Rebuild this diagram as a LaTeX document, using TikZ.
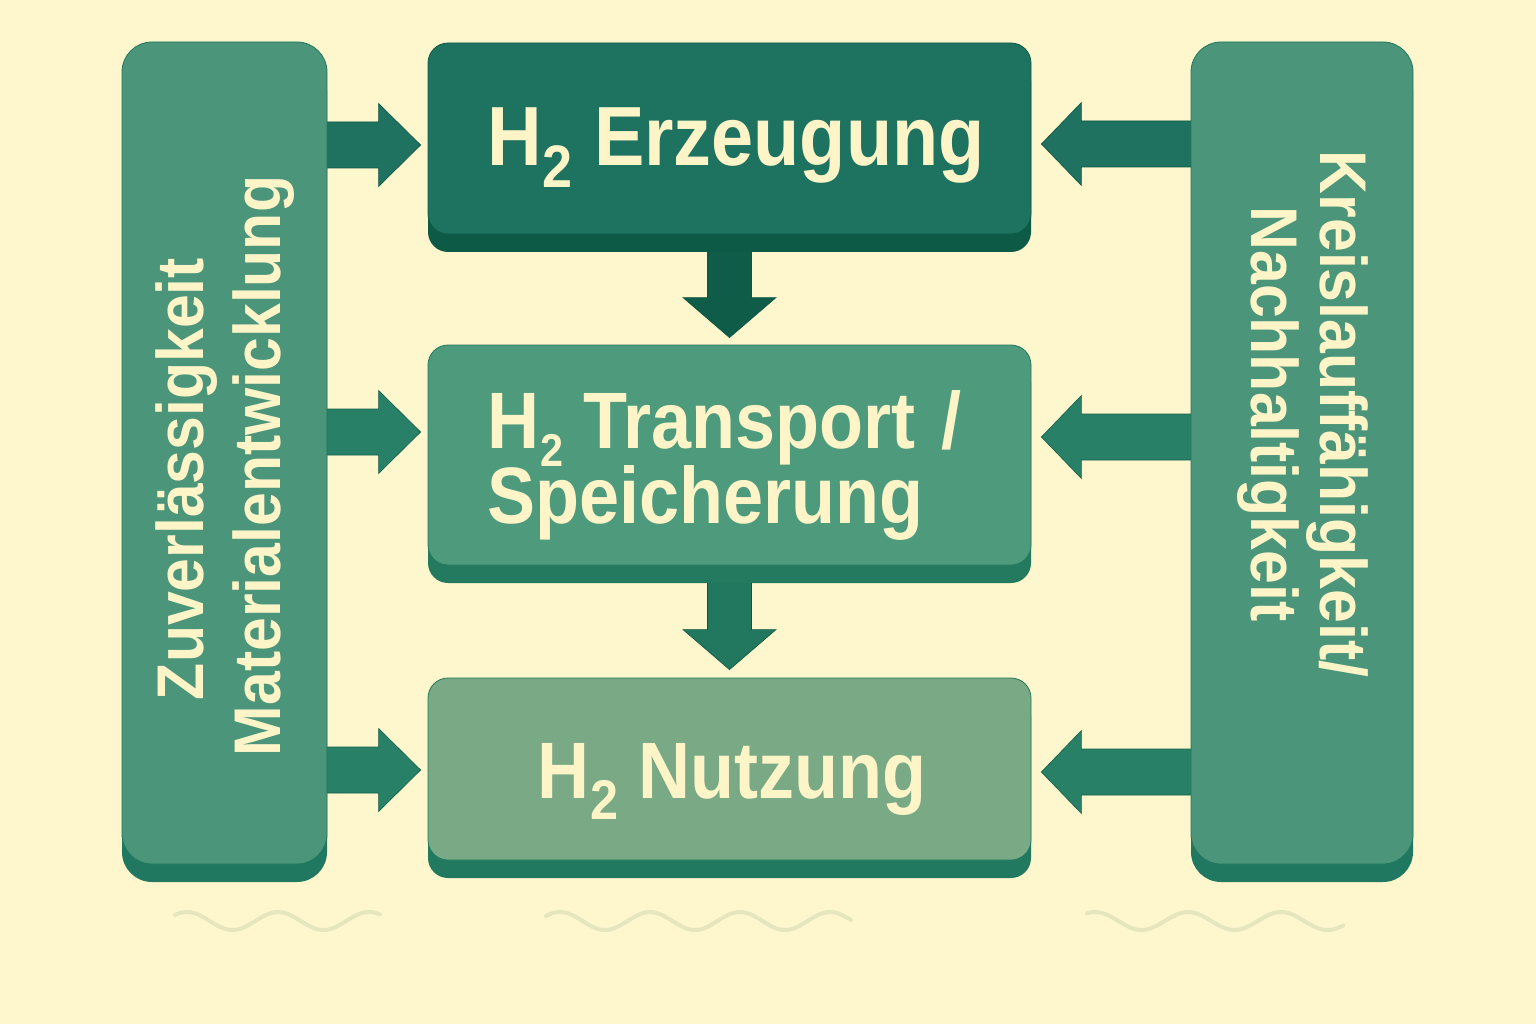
\documentclass[tikz,border=0pt]{standalone}
\usepackage{fontspec}
\setmainfont{Liberation Sans}
\newfontfamily\hfont{Liberation Sans}[FakeStretch=0.9]
\newfontfamily\sidefont{Liberation Sans}[FakeStretch=0.92]
\usetikzlibrary{calc,shadows}
\pgfdeclarelayer{bgl}
\pgfdeclarelayer{arr}
\pgfsetlayers{bgl,arr,main}
\definecolor{bgc}{HTML}{FEF6CD}
\definecolor{topface}{HTML}{1E7260}
\definecolor{topshadow}{HTML}{0D5B47}
\definecolor{midface}{HTML}{4E9A7D}
\definecolor{midshadow}{HTML}{237A5F}
\definecolor{botface}{HTML}{79A985}
\definecolor{botshadow}{HTML}{217A5F}
\definecolor{barface}{HTML}{4B957A}
\definecolor{barshadow}{HTML}{207860}
\definecolor{arrowdark}{HTML}{1E725F}
\definecolor{arrowmid}{HTML}{288066}
\definecolor{downdark}{HTML}{0F5D49}
\definecolor{downmid}{HTML}{22775F}
\definecolor{edgec}{HTML}{0C5643}
\definecolor{txtc}{HTML}{FDF5C8}
\definecolor{wavec}{HTML}{E6E6BE}
\tikzset{
  panel/.style n args={3}{fill=#1, draw=#2, line width=0.8pt, rounded corners=#3,
    inner sep=0pt, drop shadow={shadow xshift=0pt, shadow yshift=-18pt, fill=#2, opacity=1}},
  maintext/.style={text=txtc, inner sep=0pt},
  sidetext/.style={text=txtc, inner sep=0pt, align=center},
  arrowA/.style={fill=arrowdark, draw=edgec, line width=0.6pt},
  arrowB/.style={fill=arrowmid, draw=edgec!80!arrowmid, line width=0.6pt},
  downA/.style={fill=downdark, draw=edgec, line width=0.6pt},
  downB/.style={fill=downmid, draw=edgec, line width=0.6pt},
  wave/.style={draw=wavec, line width=4pt, line cap=round},
}
\newcommand\Hsub[2]{\kern1pt\smash{\raisebox{-#2pt}{\fontsize{#1}{#1}\selectfont 2}}}
\newcommand\arrowRight[3]{%
  \begin{pgfonlayer}{arr}
  \filldraw[#3] let \p1=(#1), \p2=(#2) in
    (\x1,\y2+23pt) -- (\x2-42pt,\y2+23pt) -- (\x2-42pt,\y2+41.5pt) -- (\x2,\y2)
    -- (\x2-42pt,\y2-41.5pt) -- (\x2-42pt,\y2-23pt) -- (\x1,\y2-23pt) -- cycle;
  \end{pgfonlayer}}
\newcommand\arrowLeft[3]{%
  \begin{pgfonlayer}{arr}
  \filldraw[#3] let \p1=(#1), \p2=(#2) in
    (\x1,\y2+23pt) -- (\x2+40pt,\y2+23pt) -- (\x2+40pt,\y2+41.5pt) -- (\x2,\y2)
    -- (\x2+40pt,\y2-41.5pt) -- (\x2+40pt,\y2-23pt) -- (\x1,\y2-23pt) -- cycle;
  \end{pgfonlayer}}
\newcommand\arrowDown[3]{%
  \begin{pgfonlayer}{arr}
  \filldraw[#3] let \p1=(#1), \p2=(#2) in
    (\x2-22pt,\y1) -- (\x2-22pt,\y2+40pt) -- (\x2-46.5pt,\y2+40pt) -- (\x2,\y2)
    -- (\x2+46.5pt,\y2+40pt) -- (\x2+22pt,\y2+40pt) -- (\x2+22pt,\y1) -- cycle;
  \end{pgfonlayer}}
\begin{document}
\begin{tikzpicture}[x=1pt, y=-1pt]
\useasboundingbox (0,0) rectangle (1536,1024);
\begin{pgfonlayer}{bgl}
  \fill[bgc] (0,0) rectangle (1536,1024);
\end{pgfonlayer}

% side bars
\node[panel={barface}{barshadow}{30pt}, minimum width=205pt, minimum height=822pt] (lbar) at (224.5,453) {};
\node[panel={barface}{barshadow}{30pt}, minimum width=222pt, minimum height=822pt] (rbar) at (1302,453) {};

% main boxes
\node[panel={topface}{topshadow}{20pt}, minimum width=603pt, minimum height=191pt] (top) at (729.5,138.5) {};
\node[panel={midface}{midshadow}{20pt}, minimum width=603pt, minimum height=220pt] (mid) at (729.5,455) {};
\node[panel={botface}{botshadow}{20pt}, minimum width=603pt, minimum height=182pt] (bot) at (729.5,769) {};

% texts
\node[maintext, font={\hfont\bfseries\fontsize{84}{84}\selectfont}, anchor=base] (toptext) at (736,166) {H\Hsub{60}{22} Erzeugung};
\node[maintext, font={\hfont\bfseries\fontsize{80}{70}\selectfont}, align=left, anchor=north west] (midtext) at (487,390) {H\Hsub{46}{18} Transport\hspace{0.33em}/\\Speicherung};
\node[maintext, font={\hfont\bfseries\fontsize{80}{80}\selectfont}, anchor=base] (bottext) at (732,798) {H\Hsub{56}{21} Nutzung};
\node[sidetext, font={\sidefont\bfseries\fontsize{66}{77}\selectfont}, rotate=90] (ltext) at (225,466) {Zuverlässigkeit\rule{26pt}{0pt}\\Materialentwicklung};
\node[sidetext, font={\sidefont\bfseries\fontsize{66}{69}\selectfont}, rotate=-90] (rtext) at (1303,414) {Kreislauffähigkeit/\\Nachhaltigkeit};

% arrow tips
\coordinate (tipL1) at ($(top.west)+(-7,6.5)$);
\coordinate (tipL2) at ($(mid.west)+(-7,-23)$);
\coordinate (tipL3) at ($(bot.west)+(-7,1)$);
\coordinate (tipR1) at ($(top.east)+(10,5.5)$);
\coordinate (tipR2) at ($(mid.east)+(10,-18)$);
\coordinate (tipR3) at ($(bot.east)+(10,3)$);
\coordinate (tipD1) at ($(mid.north)+(0,-7)$);
\coordinate (tipD2) at ($(bot.north)+(0,-8)$);

\arrowRight{lbar.center}{tipL1}{arrowA}
\arrowRight{lbar.center}{tipL2}{arrowB}
\arrowRight{lbar.center}{tipL3}{arrowB}
\arrowLeft{rbar.center}{tipR1}{arrowA}
\arrowLeft{rbar.center}{tipR2}{arrowB}
\arrowLeft{rbar.center}{tipR3}{arrowB}
\arrowDown{top.center}{tipD1}{downA}
\arrowDown{mid.center}{tipD2}{downB}

% decorative waves
\draw[wave] plot[domain=175:380, samples=90, smooth] (\x,{921-9*cos((\x-187)/91*360)});
\draw[wave] plot[domain=546:851, samples=120, smooth] (\x,{921-9*cos((\x-560)/90*360)});
\draw[wave] plot[domain=1087:1343, samples=100, smooth] (\x,{921-9*cos((\x-1095)/93*360)});
\end{tikzpicture}
\end{document}
